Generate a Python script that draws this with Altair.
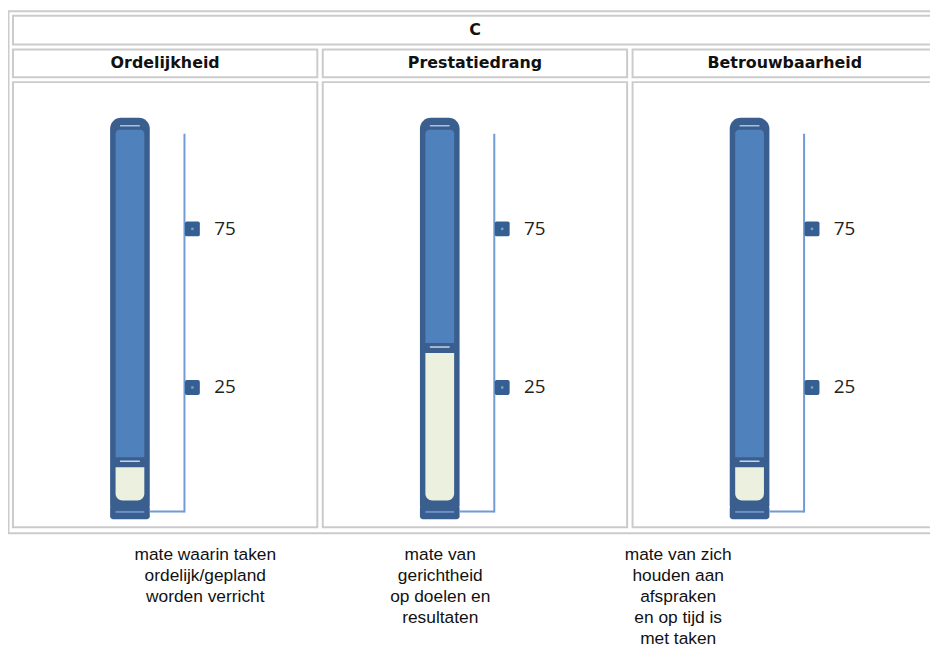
import altair as alt
import pandas as pd

# ---------------- data ----------------
TITLE = "C"
CATEGORIES = ["Ordelijkheid", "Prestatiedrang", "Betrouwbaarheid"]
LEVELS = [3, 39, 3]            # fill level of each thermometer (score units)
TICK_VALUES = [25, 75]
TICK_LABELS = ["25", "75"]
DESCRIPTIONS = [
    ["mate waarin taken", "ordelijk/gepland", "worden verricht"],
    ["mate van", "gerichtheid", "op doelen en", "resultaten"],
    ["mate van zich", "houden aan", "afspraken", "en op tijd is", "met taken"],
]

# ---------------- layout (pixels) ----------------
W, H = 930, 640
X0, STEP, CELL_W = 5, 312.5, 307
PX_PER_UNIT = 3.2
ysc = alt.Scale(domain=[0, 100], range=[460, 140])

TUBE_HALF, INNER_HALF = 20, 14.5
TUBE_DX, LINE_DX, MARK_DX, LABEL_DX = 118, 173, 181, 203

BORDER = "#cbcbcb"
DARK = "#3a5f8f"
BLUE = "#4f81bd"
GREEN = "#ebf1de"
LINE = "#729ad4"
MARK = "#365f91"

cols = []
for i, (cat, lvl) in enumerate(zip(CATEGORIES, LEVELS)):
    L = X0 + i * STEP
    cx = L + TUBE_DX
    cols.append(dict(
        cat=cat, level=lvl,
        green_top=lvl - 10 / PX_PER_UNIT,
        streak=lvl - 4 / PX_PER_UNIT,
        L=L, R=L + CELL_W, cx=cx,
        t0=cx - TUBE_HALF, t1=cx + TUBE_HALF,
        i0=cx - INNER_HALF, i1=cx + INNER_HALF,
        h0=cx - 10, h1=cx + 10,
        lx=L + LINE_DX, hc=L + CELL_W / 2,
    ))
cols = pd.DataFrame(cols)

frames = [dict(x=0.5, x2=960, y=0.5, y2=527)]
frames.append(dict(x=X0, x2=X0 + 2 * STEP + CELL_W, y=5, y2=34))
for i in range(len(CATEGORIES)):
    L = X0 + i * STEP
    frames.append(dict(x=L, x2=L + CELL_W, y=39, y2=67))
    frames.append(dict(x=L, x2=L + CELL_W, y=72, y2=521))
frames = pd.DataFrame(frames)

ticks = []
for i in range(len(CATEGORIES)):
    L = X0 + i * STEP
    for v, lab in zip(TICK_VALUES, TICK_LABELS):
        ticks.append(dict(v=v, label=lab, mx=L + MARK_DX, tx=L + LABEL_DX))
ticks = pd.DataFrame(ticks)

DESC_CX = [199, 436, 676]
desc = []
for i, lines in enumerate(DESCRIPTIONS):
    for k, t in enumerate(lines):
        desc.append(dict(text=t, x=DESC_CX[i], y=549.5 + 21 * k))
desc = pd.DataFrame(desc)


def PX(f):
    return alt.X(f, type="quantitative", scale=None)


def PY(f):
    return alt.Y(f, type="quantitative", scale=None)


def SY(f):
    return alt.Y(f, type="quantitative", scale=ysc, axis=None)


layers = []

# table frame
layers.append(alt.Chart(frames).mark_rect(fill="white", stroke=BORDER, strokeWidth=2).encode(
    x=PX("x"), x2="x2", y=PY("y"), y2="y2"))

# title
layers.append(alt.Chart(pd.DataFrame([{"t": TITLE, "x": X0 + STEP + CELL_W / 2, "y": 19.5}]))
              .mark_text(font="DejaVu Sans", fontWeight="bold", fontSize=16, color="#111",
                         baseline="middle")
              .encode(x=PX("x"), y=PY("y"), text="t:N"))

# column headers
layers.append(alt.Chart(cols).mark_text(font="DejaVu Sans", fontWeight="bold", fontSize=16,
                                        color="#111", baseline="middle")
              .encode(x=PX("hc"), y=alt.value(53), text="cat:N"))

# tube outer
layers.append(alt.Chart(cols).mark_rect(fill=DARK, cornerRadiusTopLeft=11, cornerRadiusTopRight=11,
                                        cornerRadiusBottomLeft=4, cornerRadiusBottomRight=4)
              .encode(x=PX("t0"), x2="t1", y=alt.value(108), y2=alt.value(503)))
# inner blue
layers.append(alt.Chart(cols).mark_rect(fill=BLUE, cornerRadiusTopLeft=4, cornerRadiusTopRight=4)
              .encode(x=PX("i0"), x2="i1", y=SY("level"), y2=alt.value(120)))
# top highlight
layers.append(alt.Chart(cols).mark_rule(color="#a9c0e0", strokeWidth=1.5)
              .encode(x=PX("h0"), x2="h1", y=alt.value(116)))
# green fill
layers.append(alt.Chart(cols).mark_rect(fill=GREEN, cornerRadiusBottomLeft=7, cornerRadiusBottomRight=7)
              .encode(x=PX("i0"), x2="i1", y=SY("green_top"), y2=alt.value(494)))
# fill-top streak
layers.append(alt.Chart(cols).mark_rule(color="#c9d6e8", strokeWidth=1.5)
              .encode(x=PX("h0"), x2="h1", y=SY("streak")))
# base
layers.append(alt.Chart(cols).mark_rect(fill=DARK, cornerRadius=3)
              .encode(x=PX("t0"), x2="t1", y=alt.value(499), y2=alt.value(513)))
layers.append(alt.Chart(cols).mark_rule(color="#6a8fc8", strokeWidth=2)
              .encode(x=PX("i0"), x2="i1", y=alt.value(505.5)))
# scale line
layers.append(alt.Chart(cols).mark_rule(color=LINE, strokeWidth=2)
              .encode(x=PX("lx"), y=alt.value(124), y2=alt.value(506)))
layers.append(alt.Chart(cols).mark_rule(color=LINE, strokeWidth=2)
              .encode(x=PX("t1"), x2="lx", y=alt.value(505)))

# tick markers
RSQ = "M-0.75,-1L0.75,-1Q1,-1 1,-0.75L1,0.75Q1,1 0.75,1L-0.75,1Q-1,1 -1,0.75L-1,-0.75Q-1,-1 -0.75,-1Z"
layers.append(alt.Chart(ticks).mark_point(shape=RSQ, filled=True, size=225, color=MARK, opacity=1)
              .encode(x=PX("mx"), y=SY("v")))
layers.append(alt.Chart(ticks).mark_point(shape="square", filled=True, size=6, color="#7c9fd0", opacity=1)
              .encode(x=PX("mx"), y=SY("v")))
layers.append(alt.Chart(ticks).mark_text(font="Open Sans", fontSize=19, color="#222", align="left",
                                         baseline="middle")
              .encode(x=PX("tx"), y=SY("v"), text="label:N"))

# descriptions
layers.append(alt.Chart(desc).mark_text(font="Liberation Sans", fontSize=17.5, color="#111",
                                        baseline="middle")
              .encode(x=PX("x"), y=PY("y"), text="text:N"))

chart = alt.layer(*layers).properties(
    width=W, height=H, autosize="none", padding=0
).configure_view(stroke=None)

chart.save("out.html", embed_options={"renderer": "svg", "actions": False})
